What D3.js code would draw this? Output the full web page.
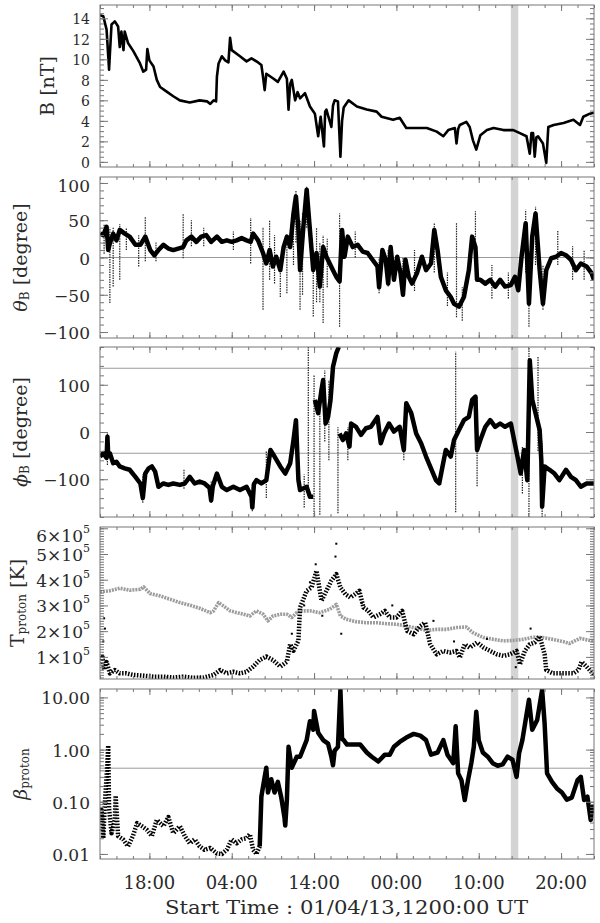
<!DOCTYPE html>
<html>
<head>
<meta charset="utf-8">
<script src="https://cdn.jsdelivr.net/npm/d3@7"></script>
<style>
  body { margin: 0; background: #fff; }
  svg { display: block; font-family: "DejaVu Serif", serif; }
</style>
</head>
<body>
<div id="chart"></div>
<script>
// ---------- data (hours after 01/04/13 12:00 UT) ----------
const xMajorHours = [6, 16, 26, 36, 46, 56];
const xTickLabels = ['18:00', '04:00', '14:00', '00:00', '10:00', '20:00'];
const shadeSpan = [49.9, 50.8];

// |B| in nT
const bField = [[0,14.3],[0.4,14.2],[0.8,12.9],[1.1,9.0],[1.2,10.5],[1.4,13.4],[1.8,13.7],[2.2,13.2],[2.4,11.2],[2.6,12.7],[2.85,10.9],[3.0,12.7],[3.4,11.6],[4.05,10.8],[4.86,9.6],[5.26,8.8],[5.6,9.0],[5.75,11.0],[6.0,9.9],[6.5,9.3],[6.9,8.0],[7.3,7.3],[8.1,6.85],[8.9,6.4],[9.7,6.0],[10.9,5.8],[12.1,6.0],[13.0,5.9],[13.4,5.65],[13.8,6.0],[14.1,5.9],[14.2,8.3],[14.4,9.6],[14.8,10.3],[15.2,9.9],[15.6,9.7],[15.8,12.1],[16.0,10.9],[17.0,10.3],[17.8,9.8],[18.4,10.1],[19.2,9.7],[19.6,9.45],[19.8,8.3],[20.0,7.0],[20.2,8.6],[21.0,8.15],[21.6,7.8],[22.3,8.8],[22.7,8.1],[22.9,5.1],[23.1,7.6],[23.3,8.0],[23.7,6.0],[24.0,6.8],[24.3,6.2],[24.9,6.7],[25.5,5.4],[26.1,4.7],[26.5,2.5],[26.8,4.4],[27.2,1.5],[27.35,4.9],[27.5,5.1],[28.1,3.4],[28.3,5.5],[28.5,6.0],[28.9,5.9],[29.2,0.5],[29.4,4.0],[29.6,5.3],[30.2,6.0],[31.2,5.4],[32.4,5.1],[33.6,4.9],[34.2,4.4],[35.6,4.1],[36.4,4.3],[37.2,3.3],[38.5,3.3],[39.7,3.3],[40.9,2.95],[41.7,2.5],[42.3,3.1],[43.1,3.3],[43.3,1.8],[43.5,3.2],[43.7,3.6],[44.5,3.9],[44.9,3.4],[45.3,2.1],[45.7,1.2],[46.2,2.6],[47.0,3.1],[47.8,3.3],[49.0,3.1],[50.2,3.1],[51.0,2.8],[51.8,2.5],[52.2,0.8],[52.4,2.8],[52.6,2.8],[52.8,0.5],[53.0,2.4],[53.2,2.5],[53.8,1.8],[54.2,-0.1],[54.45,3.4],[55.1,3.6],[56.3,3.8],[57.5,4.1],[58.3,3.6],[58.7,4.4],[59.5,4.7],[60,4.8]];

// theta_B in degree
const thetaB = [[0,32],[0.4,30],[0.8,41],[1.0,10],[1.2,19],[1.6,32],[2.0,23],[2.4,37],[3.0,32],[3.6,28],[4.3,17],[4.9,17],[5.5,28],[6.1,10],[6.6,3],[7.1,10],[7.7,17],[8.3,12],[8.9,10],[9.5,12],[10.1,14],[10.5,23],[11.1,28],[11.7,21],[12.3,28],[12.9,30],[13.5,21],[14.2,28],[14.8,21],[15.4,23],[16.0,21],[16.6,23],[17.2,26],[17.8,23],[18.3,21],[18.6,32],[19.2,23],[19.8,6],[20.2,-8],[20.6,10],[21.0,-12],[21.4,1],[21.9,-17],[22.3,14],[22.7,28],[23.1,14],[23.5,59],[23.8,82],[24.1,37],[24.3,-17],[24.7,41],[25.1,91],[25.4,50],[25.9,-17],[26.3,6],[26.7,-39],[27.1,14],[27.5,1],[27.9,-8],[28.3,-17],[28.7,-26],[29.1,-32],[29.4,37],[29.7,1],[30.1,28],[30.7,14],[31.3,17],[31.9,8],[32.5,6],[33.1,-3],[33.7,-12],[33.9,-40],[34.3,10],[34.7,-3],[35.0,-35],[35.3,14],[35.7,-30],[36.1,1],[36.5,-21],[36.8,-50],[37.1,-3],[37.5,-26],[37.9,-35],[38.5,-21],[39.1,1],[39.6,-17],[40.2,-8],[40.6,37],[41.0,10],[41.4,-26],[42.0,-44],[42.6,-53],[43.0,-62],[43.6,-66],[44.2,-53],[44.8,-17],[45.2,28],[45.6,14],[45.8,-30],[46.2,-30],[46.8,-35],[47.4,-30],[48.0,-39],[48.6,-30],[49.2,-39],[49.9,-37],[50.4,-26],[50.8,-44],[51.2,1],[51.7,46],[52.1,-62],[52.5,28],[52.9,59],[53.4,-17],[53.8,-62],[54.2,-17],[54.8,-1],[55.4,1],[56.0,6],[56.6,3],[57.2,-3],[57.8,-17],[58.4,-8],[59.1,-12],[59.7,-21],[60,-30]];
// theta_B scatter spikes [hour, low, high]
const thetaSpikes = [[0.5,5,45],[1.2,-61,40],[1.6,-39,40],[2.4,-30,45],[3.2,10,40],[4.7,-12,30],[5.5,-5,55],[6.8,-5,20],[10.1,-1,59],[11.1,15,50],[12.6,15,40],[16.2,10,35],[18.3,-8,53],[19.8,-70,41],[20.6,-30,50],[21.2,-35,30],[21.9,-53,0],[22.7,-48,30],[23.5,-10,75],[23.8,20,90],[24.3,-70,50],[24.6,-50,60],[25.1,40,95],[25.9,-79,10],[26.3,-60,40],[26.7,-60,20],[27.1,-88,30],[27.6,-40,25],[29.1,-93,59],[31.0,0,35],[33.9,-48,0],[35.0,-39,10],[36.8,-53,0],[38.2,-45,10],[40.6,-20,46],[42.2,-65,-20],[43.3,-80,46],[44.0,-85,-40],[45.6,-30,62],[47.6,-55,-10],[49.6,-55,-20],[51.7,-20,64],[52.1,-93,0],[52.9,-10,68],[53.8,-70,-10],[55.6,-10,37],[57.4,-30,15],[58.8,-30,10]];

// phi_B in degree (null = gap)
const phiB = [[0,-52],[0.4,-45],[0.8,-55],[0.9,-10],[1.0,-50],[1.2,-45],[1.6,-66],[2.0,-63],[2.4,-73],[3.0,-77],[3.6,-80],[4.3,-95],[4.9,-109],[5.2,-140],[5.5,-88],[5.9,-77],[6.3,-73],[6.7,-84],[7.1,-116],[7.7,-109],[8.3,-112],[8.9,-109],[9.7,-112],[10.3,-109],[10.9,-95],[11.5,-109],[12.1,-105],[12.7,-109],[13.3,-118],[13.5,-145],[13.7,-115],[14.2,-88],[14.8,-116],[15.4,-123],[16.2,-116],[17.0,-123],[17.8,-116],[18.4,-137],[18.5,-160],[18.7,-110],[19.0,-102],[19.6,-109],[20.2,-102],[20.7,-38],[21.2,-52],[21.9,-73],[22.5,-88],[23.1,-66],[23.5,-17],[23.8,25],[24.0,-60],[24.1,-102],[24.3,-123],[25.1,-116],[25.5,-137],[25.9,-137],[26.0,null],[26.1,68],[26.5,40],[26.9,89],[27.1,110],[27.4,18],[27.7,32],[28.0,68],[28.3,138],[28.7,167],[29.0,180],[29.05,null],[29.1,-3],[29.5,-17],[29.9,-3],[30.3,-31],[30.5,18],[31.1,11],[31.7,-6],[32.3,8],[32.9,11],[33.7,32],[34.1,-24],[34.5,-3],[35.1,18],[35.7,1],[36.4,11],[36.9,-38],[37.2,61],[37.8,40],[38.4,-3],[39.0,-24],[39.6,-52],[40.2,-77],[40.8,-102],[41.2,-109],[41.6,-73],[42.0,-38],[42.6,-52],[43.0,-17],[43.6,4],[44.2,25],[44.8,32],[45.2,68],[45.6,75],[45.8,-38],[46.2,-17],[46.8,11],[47.4,25],[48.0,11],[48.6,18],[49.2,11],[49.9,18],[50.3,-17],[50.7,-52],[51.1,-88],[51.5,-38],[51.9,-102],[52.0,-20],[52.2,152],[52.5,68],[52.9,40],[53.4,4],[53.6,-60],[53.7,-158],[54.0,-73],[54.6,-80],[55.2,-88],[55.8,-102],[56.6,-80],[57.2,-95],[57.8,-102],[58.4,-116],[59.1,-109],[60,-109]];
const phiSpikes = [[0.9,-70,-3],[5.2,-150,-90],[10.2,-120,-80],[13.5,-150,-105],[18.5,-168,-110],[20.2,-140,-40],[24.8,-160,-90],[25.3,-130,180],[26.0,-180,120],[26.7,-175,90],[27.3,-20,130],[27.8,-60,110],[28.9,-172,10],[30.1,-60,10],[36.9,-60,20],[43.2,-170,170],[45.8,-115,75],[51.3,-130,-30],[52.1,-180,180],[53.2,-40,160],[53.7,-180,-20]];

// proton temperature, units of 1e5 K
const tExpected = [[0,3.53],[1.2,3.57],[2.4,3.67],[3.6,3.59],[4.9,3.63],[5.3,3.72],[6.1,3.46],[7.3,3.37],[8.5,3.24],[9.7,3.11],[10.9,3.01],[12.1,2.89],[13.4,2.72],[13.8,2.79],[14.4,3.11],[15.0,2.98],[15.8,2.79],[16.6,2.72],[17.4,2.66],[18.2,2.59],[19.0,2.79],[19.8,2.66],[20.4,2.4],[21.0,2.59],[21.9,2.66],[22.7,2.66],[23.3,2.53],[23.9,2.72],[24.3,2.79],[25.5,2.79],[26.7,2.72],[27.9,2.85],[28.7,3.04],[29.2,2.59],[29.9,2.46],[31.1,2.37],[32.3,2.33],[33.6,2.33],[34.8,2.29],[36.0,2.27],[37.2,2.20],[38.5,2.11],[39.7,2.03],[40.9,2.07],[42.1,2.07],[43.3,2.14],[44.5,2.16],[45.3,1.94],[46.6,1.75],[47.8,1.68],[49.0,1.62],[50.2,1.64],[51.4,1.68],[52.6,1.77],[53.8,1.75],[55.0,1.68],[56.3,1.59],[57.0,1.52],[58.3,1.72],[59.5,1.64],[60,1.62]];
const tProton = [[0,0.75],[0.3,1.0],[0.5,0.5],[0.8,0.8],[1.2,0.36],[1.8,0.49],[2.4,0.36],[3.2,0.36],[4.0,0.3],[5.3,0.27],[6.5,0.23],[7.7,0.23],[8.9,0.2],[10.1,0.23],[11.3,0.19],[12.6,0.2],[13.8,0.3],[14.6,0.49],[15.4,0.36],[16.2,0.42],[17.0,0.36],[17.8,0.42],[18.6,0.62],[19.4,0.88],[20.2,1.01],[21.0,0.88],[21.9,0.62],[22.7,0.81],[23.1,1.5],[23.5,1.24],[24.1,1.63],[24.3,2.92],[25.1,3.57],[25.7,3.7],[26.3,4.35],[26.9,3.18],[27.5,3.57],[28.1,3.96],[28.7,4.22],[29.2,3.7],[29.8,3.44],[30.4,3.31],[31.0,3.44],[31.5,3.57],[32.0,2.92],[32.6,2.79],[33.2,2.53],[34.0,2.66],[34.6,2.79],[35.2,2.53],[36.0,2.53],[36.7,2.79],[37.3,2.01],[38.1,1.88],[38.9,2.20],[39.5,2.33],[40.1,1.49],[40.9,1.1],[41.7,1.23],[42.5,1.17],[43.3,1.23],[43.7,0.97],[44.3,1.49],[44.9,1.36],[45.8,1.56],[46.6,1.36],[47.4,1.23],[48.2,1.1],[49.0,1.04],[49.8,1.1],[50.6,1.23],[51.0,0.71],[51.6,1.23],[52.2,1.49],[52.8,1.56],[53.4,1.81],[54.0,1.1],[54.2,0.49],[55.0,0.36],[56.3,0.36],[57.5,0.36],[58.1,0.49],[58.5,0.81],[59.1,0.62],[60,0.3]];
const tOutliers = [[0.4,1.6],[0.5,2.5],[0.6,2.1],[23.3,1.9],[24.8,3.0],[25.5,3.9],[26.2,4.6],[27.0,2.6],[28.6,4.9],[28.7,5.4],[29.3,1.9],[31.8,3.1],[35.5,3.0],[40.5,2.4],[43.0,1.6],[47.0,1.7],[50.5,0.6],[52.3,2.1]];

// proton beta
const betaProton = [[0,0.045],[0.2,0.07],[0.4,0.02],[0.6,0.1],[0.8,0.3],[0.9,0.63],[1.0,1.2],[1.1,0.075],[1.4,0.025],[1.8,0.045],[1.9,0.13],[2.2,0.022],[2.8,0.019],[3.4,0.014],[4.0,0.022],[4.5,0.039],[5.1,0.034],[5.7,0.029],[6.3,0.022],[6.9,0.045],[7.7,0.034],[8.3,0.051],[8.9,0.025],[9.7,0.034],[10.3,0.022],[10.9,0.016],[11.5,0.019],[12.1,0.014],[12.7,0.012],[13.4,0.013],[14.2,0.0102],[14.8,0.010],[15.4,0.012],[16.0,0.019],[16.6,0.016],[17.2,0.019],[17.8,0.02],[18.2,0.024],[18.6,0.012],[19.0,0.010],[19.4,0.014],[19.6,0.125],[20.0,0.3],[20.2,0.45],[20.4,0.15],[20.8,0.27],[21.2,0.15],[21.6,0.24],[22.0,0.125],[22.4,0.051],[22.5,0.035],[22.7,0.11],[22.9,1.13],[23.3,0.45],[23.9,0.73],[24.3,0.73],[25.1,1.52],[25.5,3.5],[25.9,2.4],[26.0,5.5],[26.5,2.1],[27.1,1.52],[27.7,1.3],[28.1,0.73],[28.3,0.5],[28.5,0.95],[28.9,1.13],[29.2,14],[29.4,1.6],[29.6,1.52],[30.0,1.25],[30.8,1.25],[31.6,1.25],[32.4,0.88],[33.0,0.73],[33.8,0.59],[34.6,0.8],[35.2,0.8],[35.7,1.13],[36.4,1.4],[37.2,1.7],[38.1,2.0],[38.9,1.85],[39.6,1.52],[40.2,0.8],[41.0,0.88],[41.7,1.52],[42.2,0.8],[42.9,0.55],[43.2,2.8],[43.5,0.35],[43.9,0.26],[44.3,0.108],[44.7,0.26],[45.1,0.55],[45.4,1.13],[45.7,5.3],[46.0,1.52],[46.5,0.88],[47.1,0.73],[47.7,0.55],[48.3,0.49],[48.9,0.52],[49.5,0.73],[50.1,0.64],[50.6,0.3],[50.9,0.85],[51.3,1.52],[51.7,3.7],[52.1,9],[52.5,2.4],[53.1,3.7],[53.7,14],[54.0,3.2],[54.3,0.35],[54.9,0.24],[55.5,0.18],[56.1,0.15],[56.7,0.11],[57.3,0.12],[58.0,0.26],[58.4,0.3],[58.8,0.108],[59.2,0.125],[59.6,0.045],[59.8,0.08],[60,0.06]];
// beta is scattered before this hour, dense after it
const betaDenseFrom = 19.5;

// ---------- chart ----------
function stackedPlot() {
  const width = 600, height = 923;
  const left = 100, right = 594;
  const x = d3.scaleLinear().domain([0, 60]).range([left, right]);
  const xMinor = d3.range(0, 61, 2);

  const svg = d3.select('#chart').append('svg')
      .attr('width', width)
      .attr('height', height);

  const ink = '#2a2a2a';
  const frame = '#777';

  const line = (y) => d3.line()
      .defined(d => d[1] !== null)
      .x(d => x(d[0]))
      .y(d => y(d[1]));

  function spikes(plot, y, data) {
    plot.append('g').selectAll('line')
      .data(data)
      .join('line')
        .attr('x1', d => x(d[0])).attr('x2', d => x(d[0]))
        .attr('y1', d => y(d[1])).attr('y2', d => y(d[2]))
        .attr('stroke', '#222')
        .attr('stroke-width', 1.2)
        .attr('stroke-dasharray', '1.5 1');
  }

  const trace = (plot, y, data, w, dash, color) =>
    plot.append('path').datum(data)
      .attr('d', line(y)).attr('fill', 'none')
      .attr('stroke', color || '#000').attr('stroke-width', w)
      .attr('stroke-linejoin', 'round')
      .attr('stroke-dasharray', dash || null);

  const minus = d => d < 0 ? '\u2212' + Math.abs(d) : String(d);

  const panels = [
    {
      top: 5, bottom: 167,
      y: d3.scaleLinear().domain([-0.5, 15.3]),
      majors: [0, 2, 4, 6, 8, 10, 12, 14],
      minors: d3.range(0, 15.3, 0.5),
      fmt: d => String(d), labelSize: 14,
      refs: [],
      title: [{t: 'B [nT]'}], titleX: 47,
      draw: (plot, y) => trace(plot, y, bField, 2.6)
    },
    {
      top: 177, bottom: 338,
      y: d3.scaleLinear().domain([-108, 108]),
      majors: [-100, -50, 0, 50, 100],
      minors: d3.range(-100, 101, 10),
      fmt: minus, labelSize: 17,
      refs: [0],
      title: [{t: '\u03b8', it: true}, {t: 'B', sub: true}, {t: ' [degree]'}], titleX: 20,
      draw: (plot, y) => {
        spikes(plot, y, thetaSpikes);
        trace(plot, y, thetaB, 4.5);
      }
    },
    {
      top: 347, bottom: 517,
      y: d3.scaleLinear().domain([-180, 180]),
      majors: [-100, 0, 100],
      minors: d3.range(-180, 181, 20),
      fmt: minus, labelSize: 17,
      refs: [135, -45],
      title: [{t: '\u03d5', it: true}, {t: 'B', sub: true}, {t: ' [degree]'}], titleX: 20,
      draw: (plot, y) => {
        spikes(plot, y, phiSpikes);
        trace(plot, y, phiB, 4.5);
      }
    },
    {
      top: 527, bottom: 679,
      y: d3.scaleLinear().domain([0.14, 6.05]),
      majors: [1, 2, 3, 4, 5, 6],
      minors: d3.range(0.2, 6.05, 0.1),
      sci: true, labelSize: 17,
      refs: [],
      title: [{t: 'T'}, {t: 'proton', sub: true}, {t: ' [K]'}], titleX: 17,
      draw: (plot, y) => {
        trace(plot, y, tExpected, 3.6, '2 1', '#9c9c9c');
        trace(plot, y, tProton, 4.5, '1.5 1.5');
        plot.append('g').selectAll('rect')
          .data(tOutliers)
          .join('rect')
            .attr('x', d => x(d[0]) - 1).attr('y', d => y(d[1]) - 1)
            .attr('width', 2).attr('height', 2).attr('fill', '#000');
      }
    },
    {
      top: 689, bottom: 859,
      y: d3.scaleLog().domain([0.008, 14.5]),
      majors: [0.01, 0.1, 1, 10],
      minors: [0.01, 0.1, 1, 10].flatMap(d => [1, 2, 3, 4, 5, 6, 7, 8, 9].map(k => k * d)).filter(v => v >= 0.008 && v <= 14.5),
      fmt: d3.format('.2f'), labelSize: 17,
      refs: [0.44],
      title: [{t: '\u03b2', it: true}, {t: 'proton', sub: true}], titleX: 20,
      draw: (plot, y) => {
        trace(plot, y, betaProton.filter(d => d[0] <= betaDenseFrom), 4.5, '1.5 1.5');
        trace(plot, y, betaProton.filter(d => d[0] >= betaDenseFrom - 0.2), 4.5);
      }
    }
  ];

  panels.forEach((p, i) => {
    const y = p.y.range([p.bottom, p.top]);
    const g = svg.append('g');

    const clipId = 'clip' + i;
    svg.append('clipPath').attr('id', clipId)
      .append('rect')
        .attr('x', left).attr('y', p.top)
        .attr('width', right - left).attr('height', p.bottom - p.top);

    const plot = g.append('g').attr('clip-path', `url(#${clipId})`);

    // shaded interval
    plot.append('rect')
      .attr('x', x(shadeSpan[0]))
      .attr('width', x(shadeSpan[1]) - x(shadeSpan[0]))
      .attr('y', p.top).attr('height', p.bottom - p.top)
      .attr('fill', '#d4d4d4');

    // reference lines
    plot.selectAll('line.ref')
      .data(p.refs)
      .join('line')
        .attr('class', 'ref')
        .attr('x1', left).attr('x2', right)
        .attr('y1', d => y(d)).attr('y2', d => y(d))
        .attr('stroke', '#9a9a9a').attr('stroke-width', 1);

    p.draw(plot, y);

    // ticks (inward) via axes
    const tickAxis = (axis, sel, size, vals) => sel.call(axis.tickValues(vals).tickSize(size).tickFormat(''))
      .call(s => s.select('.domain').remove())
      .call(s => s.selectAll('.tick line').attr('stroke', frame));

    tickAxis(d3.axisBottom(x), g.append('g').attr('transform', `translate(0,${p.bottom})`), -3, xMinor);
    tickAxis(d3.axisBottom(x), g.append('g').attr('transform', `translate(0,${p.bottom})`), -6, xMajorHours);
    tickAxis(d3.axisTop(x), g.append('g').attr('transform', `translate(0,${p.top})`), -3, xMinor);
    tickAxis(d3.axisTop(x), g.append('g').attr('transform', `translate(0,${p.top})`), -6, xMajorHours);
    tickAxis(d3.axisLeft(y), g.append('g').attr('transform', `translate(${left},0)`), -4, p.minors);
    tickAxis(d3.axisLeft(y), g.append('g').attr('transform', `translate(${left},0)`), -8, p.majors);
    tickAxis(d3.axisRight(y), g.append('g').attr('transform', `translate(${right},0)`), -4, p.minors);
    tickAxis(d3.axisRight(y), g.append('g').attr('transform', `translate(${right},0)`), -8, p.majors);

    // frame
    g.append('rect')
      .attr('x', left).attr('y', p.top)
      .attr('width', right - left).attr('height', p.bottom - p.top)
      .attr('fill', 'none').attr('stroke', frame).attr('stroke-width', 1);

    // y tick labels
    const labels = g.append('g').selectAll('text')
      .data(p.majors)
      .join('text')
        .attr('x', left - 10)
        .attr('y', d => Math.max(y(d) + 1, p.top + 9))
        .attr('text-anchor', 'end')
        .attr('dominant-baseline', 'central')
        .attr('fill', ink)
        .style('font-size', p.labelSize + 'px');
    if (p.sci) {
      labels.each(function(d) {
        const t = d3.select(this);
        t.append('tspan').text(d + '\u00d710');
        t.append('tspan').attr('dy', -7).style('font-size', '11px').text('5');
      });
    } else {
      labels.text(p.fmt);
    }

    // y title
    const cy = (p.top + p.bottom) / 2;
    const title = g.append('text')
      .attr('transform', `translate(${p.titleX},${cy}) rotate(-90)`)
      .attr('text-anchor', 'middle')
      .attr('dominant-baseline', 'central')
      .attr('fill', ink)
      .style('font-size', '19px');
    let shifted = 0;
    p.title.forEach(seg => {
      const ts = title.append('tspan').text(seg.t);
      if (seg.it) ts.style('font-style', 'italic');
      if (seg.sub) {
        ts.attr('dy', 5).style('font-size', '12px');
        shifted = 5;
      } else if (shifted) {
        ts.attr('dy', -shifted);
        shifted = 0;
      }
    });
  });

  // x tick labels (bottom panel)
  svg.append('g').selectAll('text')
    .data(xMajorHours)
    .join('text')
      .attr('x', d => x(d))
      .attr('y', 882)
      .attr('text-anchor', 'middle')
      .attr('dominant-baseline', 'central')
      .attr('fill', ink)
      .style('font-size', '18px')
      .text((d, i) => xTickLabels[i]);

  svg.append('text')
    .attr('x', 165)
    .attr('y', 907)
    .attr('textLength', 363)
    .attr('lengthAdjust', 'spacingAndGlyphs')
    .attr('dominant-baseline', 'central')
    .attr('fill', ink)
    .style('font-size', '19px')
    .text('Start Time : 01/04/13,1200:00 UT');
}

window.onload = stackedPlot;
</script>
</body>
</html>
